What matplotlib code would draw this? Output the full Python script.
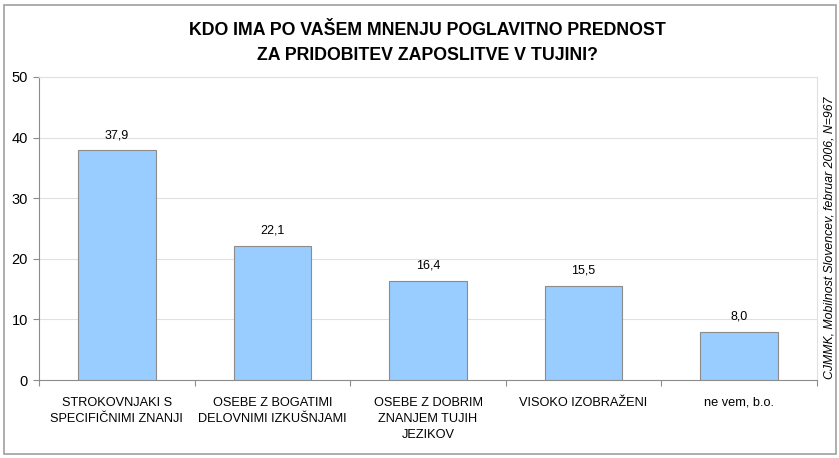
import matplotlib
matplotlib.use("Agg")
import matplotlib.pyplot as plt
from matplotlib.patches import Rectangle

categories = ["STROKOVNJAKI S\nSPECIFIČNIMI ZNANJI",
              "OSEBE Z BOGATIMI\nDELOVNIMI IZKUŠNJAMI",
              "OSEBE Z DOBRIM\nZNANJEM TUJIH\nJEZIKOV",
              "VISOKO IZOBRAŽENI",
              "ne vem, b.o."]
values = [37.9, 22.1, 16.4, 15.5, 8.0]
value_labels = ["37,9", "22,1", "16,4", "15,5", "8,0"]
yticks = [0, 10, 20, 30, 40, 50]

plt.rcParams['font.family'] = ['Liberation Sans', 'DejaVu Sans']

fig = plt.figure(figsize=(8.39, 4.58), dpi=100)
W, H = 839, 458
ax = fig.add_axes([39 / W, 1 - 380 / H, (817 - 39) / W, (380 - 77) / H])

x = list(range(len(categories)))
ax.bar(x, values, width=0.5, color="#99CCFF", edgecolor="#8C8C8C", linewidth=0.8, zorder=3)
for xi, v, lab in zip(x, values, value_labels):
    ax.text(xi, v + 1.5, lab, ha="center", va="bottom", fontsize=9, zorder=4)

ax.set_xlim(-0.5, len(categories) - 0.5)
ax.set_ylim(0, 50)
ax.set_yticks(yticks)
ax.set_yticklabels([str(t) for t in yticks], fontsize=10.5)
ax.yaxis.grid(True, color="#E0E0E0", linewidth=0.8, zorder=0)
ax.set_xticks([i - 0.5 for i in range(len(categories) + 1)], minor=False)
ax.set_xticklabels([])
ax.set_xticks(x, minor=True)
ax.set_xticklabels(categories, minor=True, fontsize=9.2, linespacing=1.45)
ax.tick_params(axis="x", which="minor", length=0, pad=12)
ax.tick_params(axis="x", which="major", length=4, color="#8C8C8C", direction="out")
ax.tick_params(axis="y", length=4, color="#8C8C8C", direction="out", pad=4)
for s in ["left", "bottom"]:
    ax.spines[s].set_color("#8C8C8C")
for s in ["top", "right"]:
    ax.spines[s].set_color("#E0E0E0")
    ax.spines[s].set_linewidth(0.8)
ax.set_facecolor("white")

fig.text(427 / W, 1 - 43 / H, "KDO IMA PO VAŠEM MNENJU POGLAVITNO PREDNOST\nZA PRIDOBITEV ZAPOSLITVE V TUJINI?",
         ha="center", va="center", fontsize=12.8, fontweight="bold", linespacing=1.6)
fig.text(829 / W, 1 - 238 / H, "CJMMK, Mobilnost Slovencev, februar 2006, N=967",
         rotation=90, ha="center", va="center", fontsize=8.8, style="italic")

fig.patches.append(Rectangle((4 / W, 4 / H), (836 - 4) / W, (453 - 4) / H, transform=fig.transFigure,
                             fill=False, edgecolor="#A0A0A0", linewidth=1.2))

fig.savefig("out.png", dpi=100)
